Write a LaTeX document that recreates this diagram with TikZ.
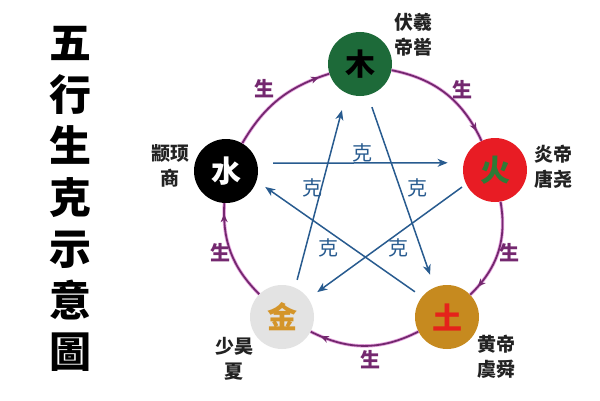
\documentclass[tikz,border=0pt]{standalone}
\usepackage{fontspec}
\setmainfont{Noto Sans CJK SC}
\usetikzlibrary{arrows.meta,decorations.markings}
\definecolor{woodc}{HTML}{1D6A39}
\definecolor{firec}{HTML}{E81C24}
\definecolor{firetext}{HTML}{2E7B36}
\definecolor{earthc}{HTML}{C68A1F}
\definecolor{earthtext}{HTML}{E5231B}
\definecolor{metalc}{HTML}{E3E3E3}
\definecolor{metaltext}{HTML}{D4952A}
\definecolor{shengc}{HTML}{74286F}
\definecolor{glowc}{HTML}{E7A6E0}
\definecolor{kec}{HTML}{285B8F}
\definecolor{namec}{HTML}{222222}
\begin{document}
\begin{tikzpicture}[x=1pt,y=1pt,
  el/.style={circle,minimum size=64pt,inner sep=0pt,font=\fontsize{30}{30}\selectfont\bfseries},
  sheng/.style={draw=shengc,line width=1.8pt,
    preaction={draw=glowc,line width=3.4pt},
    postaction={decorate},
    decoration={markings,mark=at position -11pt with {\arrow{Stealth[length=8pt,width=7pt,inset=2.5pt]}}}},
  ke/.style={draw=kec,line width=1.5pt,-{Stealth[length=10pt,width=8pt,inset=3pt]}},
  shenglab/.style={text=shengc,font=\fontsize{20}{20}\selectfont\bfseries},
  kelab/.style={text=kec,font=\fontsize{20}{20}\selectfont},
  namelab/.style={font=\fontsize{19}{25}\selectfont\bfseries,align=center,text=namec},
  titlelab/.style={font=\fontsize{42}{51.5}\selectfont\bfseries,align=center,text=black},
]
\useasboundingbox (0,0) rectangle (600,400);
\fill[white] (0,0) rectangle (600,400);

% title
\node[titlelab] (title) at (70,201) {五\\行\\生\\克\\示\\意\\圖};

% elements
\node[el,fill=woodc,text=black] (wood) at (360,336) {木};
\node[el,fill=firec,text=firetext] (fire) at (495,230) {火};
\node[el,fill=earthc,text=earthtext] (earth) at (447,83) {土};
\node[el,fill=metalc,text=metaltext] (metal) at (282,83) {金};
\node[el,fill=black,text=white] (water) at (226,229) {水};

% generating cycle
\draw[sheng] (water) to[bend left=21] (wood);
\draw[sheng] (wood) to[bend left=27] (fire);
\draw[sheng] (fire) to[bend left=28] (earth);
\draw[sheng] (earth) to[bend left=27] (metal);
\draw[sheng] (metal) to[bend left=24] (water);

% overcoming cycle
\draw[ke,shorten <=16pt,shorten >=16pt] (water.14) -- (fire.167);
\draw[ke,shorten <=8pt,shorten >=17.5pt] (metal.66) -- (wood.245);
\draw[ke,shorten <=12.6pt,shorten >=13.4pt] (wood.284) -- (earth.113);
\draw[ke,shorten <=5pt,shorten >=11pt] (fire.206) -- (metal.35);
\draw[ke,shorten <=8.6pt,shorten >=10.5pt] (earth.141) -- (water.342);

% sheng labels
\node[shenglab] (s1) at (264,311) {生};
\node[shenglab] (s2) at (462,310) {生};
\node[shenglab] (s3) at (509,147) {生};
\node[shenglab] (s4) at (370,40) {生};
\node[shenglab] (s5) at (220,147) {生};

% ke labels
\node[kelab] (k1) at (362,247) {克};
\node[kelab] (k2) at (312,212) {克};
\node[kelab] (k3) at (417,212) {克};
\node[kelab] (k4) at (328,152) {克};
\node[kelab] (k5) at (398,152) {克};

% names
\node[namelab] (n1) at (413,365.5) {伏羲\\帝喾};
\node[namelab] (n2) at (170,234.5) {颛顼\\商};
\node[namelab] (n3) at (553,233.5) {炎帝\\唐尧};
\node[namelab] (n4) at (234,41) {少昊\\夏};
\node[namelab] (n5) at (496,43) {黄帝\\虞舜};
\end{tikzpicture}
\end{document}
